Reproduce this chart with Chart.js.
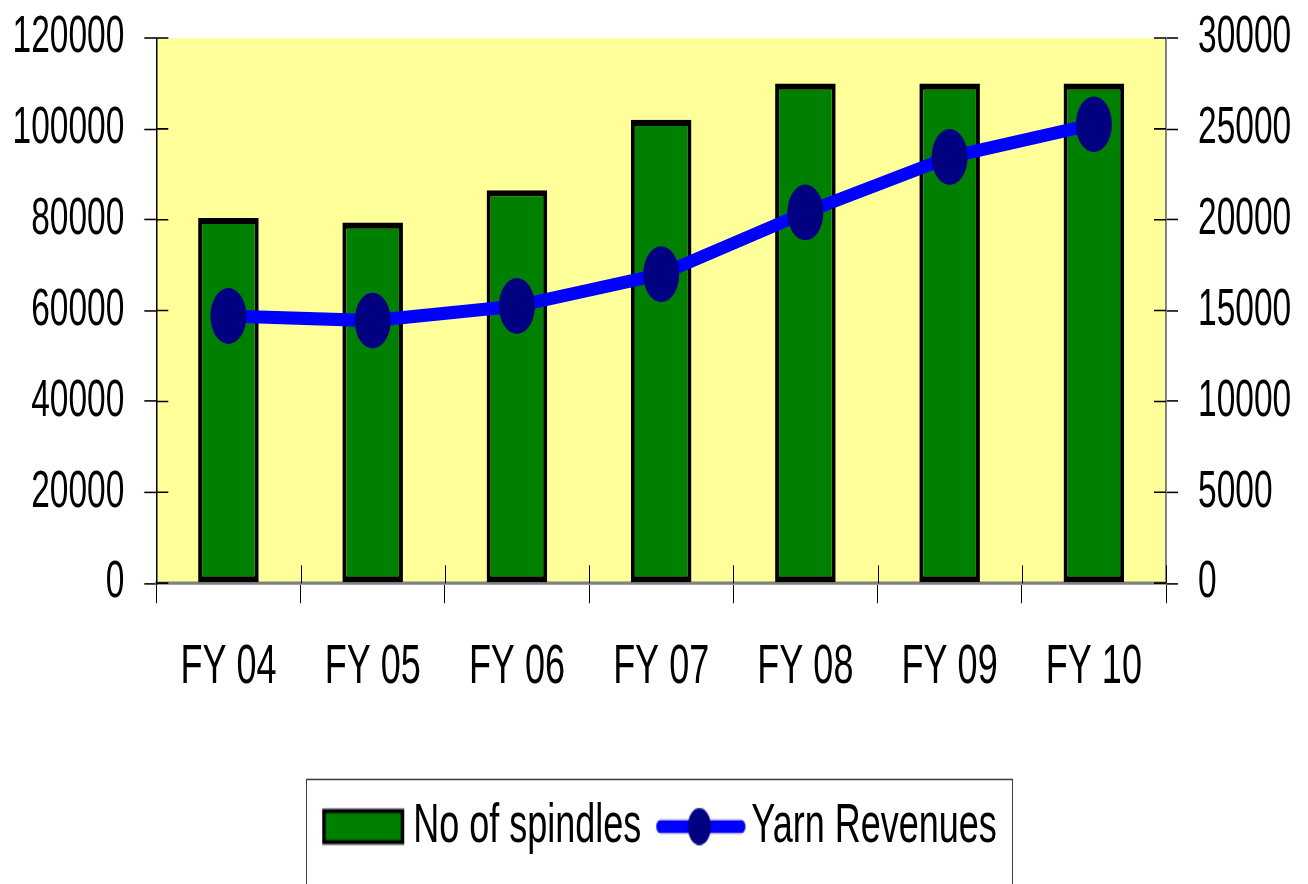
<!DOCTYPE html>
<html>
<head>
<meta charset="utf-8">
<script src="https://cdn.jsdelivr.net/npm/chart.js@4.4.0/dist/chart.umd.min.js"></script>
<style>
html,body{margin:0;padding:0;background:#fff;overflow:hidden}
canvas{display:block}
</style>
</head>
<body>
<canvas id="c" width="1308" height="570"></canvas>
<script>
// ---- data ----
const categories = ['FY 04', 'FY 05', 'FY 06', 'FY 07', 'FY 08', 'FY 09', 'FY 10'];
const spindles = [80400, 79400, 86500, 102000, 110000, 110000, 110000];
const yarnRevenues = [14700, 14450, 15250, 17000, 20400, 23450, 25250];
const leftTickLabels = [0, 20000, 40000, 60000, 80000, 100000, 120000];
const rightTickLabels = [0, 5000, 10000, 15000, 20000, 25000, 30000];
const seriesNames = ['No of spindles', 'Yarn Revenues'];

// ---- look ----
const FONT = "'Liberation Sans', Arial, sans-serif";
const BAR_GREEN = '#008000';
const LINE_BLUE = '#0000FF';
const POINT_NAVY = '#000080';
const PLOT_BG = '#FFFF99';
const CSS_H = 884, INNER_H = 570, SY = CSS_H / INNER_H;

Chart.defaults.font.family = FONT;
Chart.defaults.color = '#000';

function makeBarKey() {
  const c = document.createElement('canvas');
  c.width = 120; c.height = 26;
  const g = c.getContext('2d');
  g.fillStyle = '#000';
  g.fillRect(29, 1.5, 82, 23);
  g.fillStyle = BAR_GREEN;
  g.fillRect(32.5, 4.3, 75, 17.4);
  return c;
}
function makeLineKey() {
  const c = document.createElement('canvas');
  c.width = 120; c.height = 26;
  const g = c.getContext('2d');
  g.strokeStyle = LINE_BLUE;
  g.lineWidth = 8.4;
  g.lineCap = 'round';
  g.beginPath(); g.moveTo(29, 13); g.lineTo(110, 13); g.stroke();
  g.fillStyle = POINT_NAVY;
  g.beginPath(); g.ellipse(68, 13, 11.5, 11.9, 0, 0, Math.PI * 2); g.fill();
  return c;
}
const barKey = makeBarKey();
const lineKey = makeLineKey();

const plotBg = {
  id: 'plotBg',
  beforeDraw(chart) {
    const {ctx, chartArea: a} = chart;
    ctx.save();
    ctx.fillStyle = PLOT_BG;
    ctx.fillRect(a.left, a.top, a.right - a.left, a.bottom - a.top);
    ctx.restore();
  },
  beforeDatasetsDraw(chart) {
    // inner halves of the crossing tick marks
    const {ctx, chartArea: a, scales} = chart;
    ctx.save();
    ctx.strokeStyle = '#000';
    ctx.lineWidth = 1;
    ctx.beginPath();
    scales.y.ticks.forEach((t, i) => {
      const p = scales.y.getPixelForTick(i);
      ctx.moveTo(a.left, p); ctx.lineTo(a.left + 12, p);
    });
    scales.y1.ticks.forEach((t, i) => {
      const p = scales.y1.getPixelForTick(i);
      ctx.moveTo(a.right - 12, p); ctx.lineTo(a.right, p);
    });
    for (let i = 0; i <= categories.length; i++) {
      const p = Math.round(scales.x.getPixelForValue(i - 0.5)) + 0.5;
      ctx.moveTo(p, a.bottom - 11.6); ctx.lineTo(p, a.bottom);
    }
    ctx.stroke();
    ctx.restore();
  },
  afterDraw(chart) {
    const lg = chart.legend;
    const hb = lg.legendHitBoxes;
    if (!hb || !hb.length) return;
    const last = hb[hb.length - 1];
    const l = hb[0].left - 5;
    const r = last.left + last.width + 15;
    const t = lg.top - 4.4;
    const ctx = chart.ctx;
    ctx.save();
    ctx.strokeStyle = '#404040';
    ctx.lineWidth = 1;
    ctx.strokeRect(Math.round(l) + 0.5, t, Math.round(r - l), 200);
    ctx.restore();
  }
};

const canvas = document.getElementById('c');
const chart = new Chart(canvas, {
  data: {
    labels: categories,
    datasets: [
      {
        type: 'bar',
        label: seriesNames[0],
        data: spindles,
        yAxisID: 'y',
        backgroundColor: BAR_GREEN,
        borderColor: '#000',
        borderWidth: 4,
        borderSkipped: false,
        barPercentage: 0.42,
        categoryPercentage: 1.0,
        order: 2
      },
      {
        type: 'line',
        label: seriesNames[1],
        data: yarnRevenues,
        yAxisID: 'y1',
        borderColor: LINE_BLUE,
        borderWidth: 8.5,
        tension: 0,
        pointRadius: 18,
        pointHoverRadius: 18,
        pointBackgroundColor: POINT_NAVY,
        pointBorderWidth: 0,
        order: 1
      }
    ]
  },
  options: {
    responsive: false,
    animation: false,
    devicePixelRatio: 1,
    layout: {autoPadding: false, padding: {top: 24.5, bottom: 9, left: 0, right: 0}},
    plugins: {
      tooltip: {enabled: false},
      legend: {
        position: 'bottom',
        labels: {
          usePointStyle: true,
          pointStyleWidth: 84,
          padding: 8,
          color: '#000',
          font: {size: 36, family: FONT},
          generateLabels() {
            return [
              {text: seriesNames[0], pointStyle: barKey, fillStyle: BAR_GREEN, strokeStyle: '#000', lineWidth: 0, datasetIndex: 0, hidden: false, fontColor: '#000'},
              {text: seriesNames[1], pointStyle: lineKey, fillStyle: POINT_NAVY, strokeStyle: LINE_BLUE, lineWidth: 0, datasetIndex: 1, hidden: false, fontColor: '#000'}
            ];
          }
        }
      }
    },
    scales: {
      x: {
        type: 'category',
        offset: true,
        grid: {offset: true, drawOnChartArea: false, drawTicks: true, tickLength: 13, color: '#000'},
        border: {color: '#808080', width: 2},
        ticks: {font: {size: 36}, color: '#000', padding: 20, maxRotation: 0},
        afterFit(s) { s.height += 34.8; }
      },
      y: {
        position: 'left',
        min: leftTickLabels[0],
        max: leftTickLabels[leftTickLabels.length - 1],
        grid: {drawOnChartArea: false, tickLength: 12, color: '#000'},
        border: {color: '#000', width: 1.5},
        ticks: {stepSize: leftTickLabels[1] - leftTickLabels[0], font: {size: 33.5}, color: '#000', padding: 20, callback: v => String(v)},
        afterFit(s) { s.width = 156.3; s.paddingTop = 0; s.paddingBottom = 0; }
      },
      y1: {
        position: 'right',
        min: rightTickLabels[0],
        max: rightTickLabels[rightTickLabels.length - 1],
        grid: {drawOnChartArea: false, tickLength: 12, color: '#000'},
        border: {color: '#808080', width: 2},
        ticks: {stepSize: rightTickLabels[1] - rightTickLabels[0], font: {size: 33.5}, color: '#000', padding: 20, callback: v => String(v)},
        afterFit(s) { s.width = 142; s.paddingTop = 0; s.paddingBottom = 0; }
      }
    }
  },
  plugins: [plotBg]
});

// stretch the drawing vertically (the reference is a vertically stretched chart)
canvas.height = CSS_H;
canvas.style.width = '1308px';
canvas.style.height = CSS_H + 'px';
chart.ctx.setTransform(1, 0, 0, SY, 0, 0);
chart.draw();
</script>
</body>
</html>
